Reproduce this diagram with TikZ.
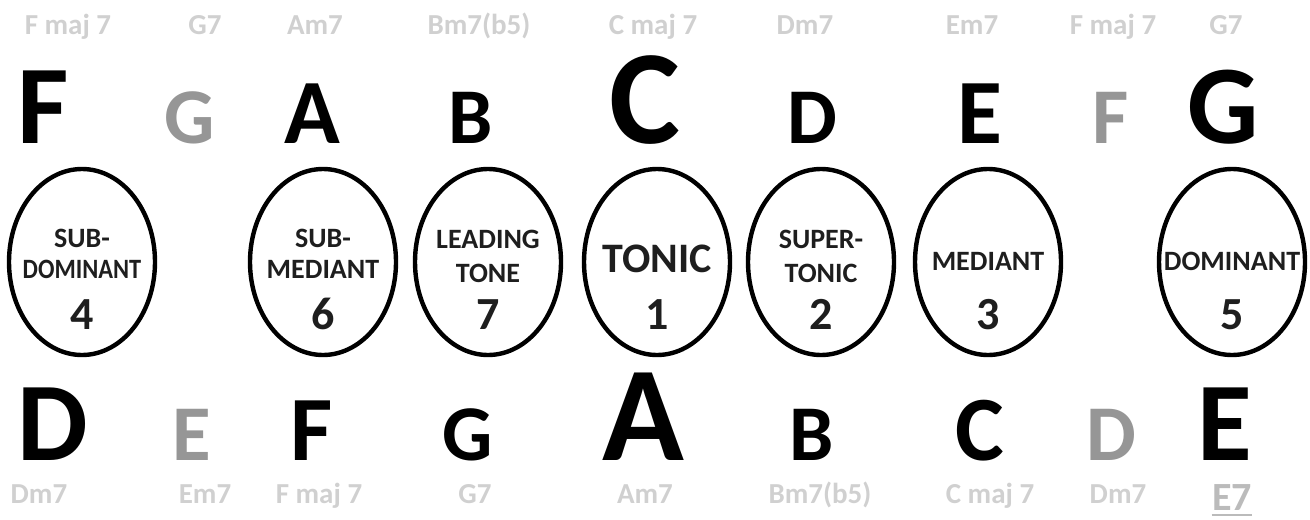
\documentclass[tikz,border=0pt]{standalone}
\usepackage{fontspec}
\setmainfont{Carlito}
\usepackage{graphicx}
\usetikzlibrary{shapes.geometric,positioning}
\definecolor{ChordGray}{RGB}{208,208,208}
\definecolor{PassGray}{RGB}{150,150,150}
\definecolor{DegreeInk}{RGB}{30,30,30}
\tikzset{
  note/.style={anchor=base,inner sep=0pt,font=\bfseries\fontsize{#1}{#1}\selectfont},
  passnote/.style={note=#1,text=PassGray},
  chord/.style={anchor=base,inner sep=0pt,text=ChordGray,
    font=\bfseries\fontsize{14.5}{14.5}\selectfont},
  degree/.style={ellipse,draw,line width=2.2pt,minimum width=73pt,
    minimum height=93pt,inner sep=0pt},
  degname/.style={anchor=base,inner sep=0pt,align=center,text=DegreeInk,
    font=\bfseries\fontsize{14}{17}\selectfont},
  degnum/.style={anchor=base,inner sep=0pt,text=DegreeInk,
    font=\bfseries\fontsize{23}{23}\selectfont}
}
\begin{document}
\begin{tikzpicture}[x=0.5pt,y=-0.5pt]
\useasboundingbox (0,0) rectangle (1310,519);
% chords above
\foreach \x/\c [count=\i] in {68/F maj 7,205/G7,315/Am7,479/Bm7(b5),653/C maj 7,
    805/Dm7,972/Em7,1113/F maj 7,1226/G7}
  \node[chord] (up\i) at (\x,35) {\c};
% upper scale
\node[note=56] (uF) at (43,143) {F};
\node[passnote=39.5] (uG) at (190,143) {G};
\node[note=46] (uA) at (312,143) {A};
\node[note=39.5] (uB) at (471,143) {B};
\node[note=67] (uC) at (645,143) {C};
\node[note=39.5] (uD) at (812,143) {D};
\node[note=46] (uE) at (980,143) {E};
\node[passnote=39.5] (uF2) at (1111,143) {F};
\node[note=56] (uG2) at (1223,143) {G};
% scale degrees
\node[degree] (e4) at (82,262) {};
\node[degree] (e6) at (323,262) {};
\node[degree] (e7) at (488,262) {};
\node[degree] (e1) at (657,262) {};
\node[degree] (e2) at (821,262) {};
\node[degree] (e3) at (988,262) {};
\node[degree] (e5) at (1232,262) {};
% two-line names sit on their last line
\node[degname] (n4) at (e4 |- 0,278) {SUB-\\[-1.5pt]\scalebox{0.87}[1]{DOMINANT}};
\node[degname] (n6) at (e6 |- 0,278) {SUB-\\[-1.5pt]MEDIANT};
\node[degname] (n7) at (e7 |- 0,282) {LEADING\\TONE};
\node[degname,font=\bfseries\fontsize{21}{21}\selectfont] (n1) at (e1 |- 0,272) {TONIC};
\node[degname] (n2) at (e2 |- 0,282) {SUPER-\\TONIC};
\node[degname] (n3) at (e3 |- 0,270) {MEDIANT};
\node[degname] (n5) at (e5 |- 0,270) {DOMINANT};
\node[degnum] (d4) at (e4 |- 0,329) {4};
\node[degnum] (d6) at (e6 |- 0,329) {6};
\node[degnum] (d7) at (e7 |- 0,329) {7};
\node[degnum] (d1) at (e1 |- 0,329) {1};
\node[degnum] (d2) at (e2 |- 0,329) {2};
\node[degnum] (d3) at (e3 |- 0,329) {3};
\node[degnum] (d5) at (e5 |- 0,329) {5};
% lower scale
\node[note=56] (lD) at (53,460) {D};
\node[passnote=39.5] (lE) at (192,460) {E};
\node[note=46] (lF) at (312,460) {F};
\node[note=39.5] (lG) at (468,460) {G};
\node[note=67.5] (lA) at (643,460) {A};
\node[note=39.5] (lB) at (812,460) {B};
\node[note=46] (lC) at (980,460) {C};
\node[passnote=39.5] (lD2) at (1111,460) {D};
\node[note=56] (lE2) at (1225,460) {E};
% chords below
\foreach \x/\c [count=\i] in {39/Dm7,205/Em7,319/F maj 7,475/G7,645/Am7,
    820/Bm7(b5),990/C maj 7,1118/Dm7}
  \node[chord] (dn\i) at (\x,503) {\c};
\node[chord,text=ChordGray!90!black,font=\bfseries\fontsize{20}{20}\selectfont]
  (dnE) at (1232,510) {E7};
\draw[ChordGray!90!black,line width=1pt] ([yshift=-2.5pt]dnE.base west)
  -- ([yshift=-2.5pt]dnE.base east);
\end{tikzpicture}
\end{document}
